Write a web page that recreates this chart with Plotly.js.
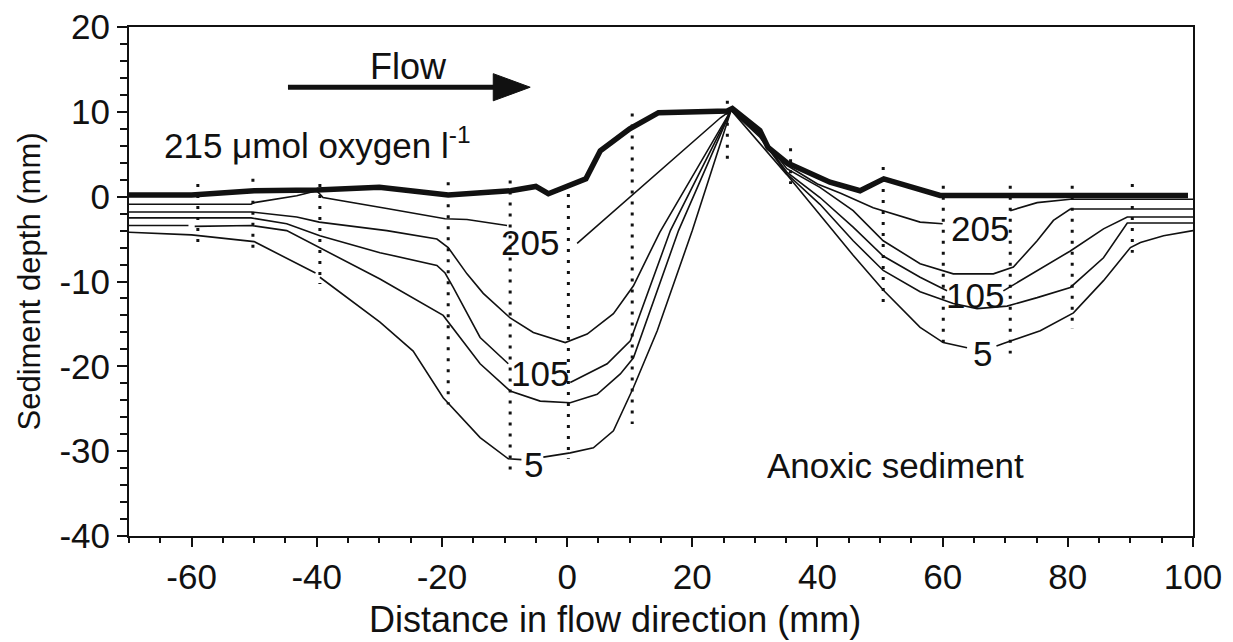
<!DOCTYPE html>
<html><head><meta charset="utf-8">
<script src="https://cdn.plot.ly/plotly-3.0.1.min.js"></script>
<style>html,body{margin:0;padding:0;background:#fff}</style>
</head><body>
<div id="chart" style="width:1233px;height:642px"></div>
<script>
// Sediment surface (thick line)
const surfaceX = [-70, -60, -50, -40, -30, -19, -9, -5, -3, 0, 3, 5.3, 10, 14.6, 25.6, 26.4, 30.8, 32.1, 35.1, 42, 46.8, 50.6, 59.6, 99.2];
const surfaceY = [0.2, 0.2, 0.7, 0.8, 1.1, 0.2, 0.7, 1.2, 0.35, 1.3, 2.1, 5.4, 8, 9.9, 10.1, 10.4, 7.8, 5.8, 4.0, 1.7, 0.7, 2.1, 0.15, 0.15];

// Oxygen isolines (µmol l-1); null = gap for the label
const iso205X = [-70, -50.5, -50, -43.2, -40, -39, -28.8, -20.8, -19.5, -16, -9.6, null, 1.6, 24.5, 26.2, 30.8, 32.1, 35.1, 40, 43.7, 48.9, 56.4, 60, null, 70.8, 75.1, 80.4, 90, 100];
const iso205Y = [-0.9, -0.9, -0.7, 0.1, 0.7, -0.1, -1.4, -2.4, -2.6, -2.7, -3.4, null, -5.5, 9.3, 10.2, 7.6, 5.6, 3.7, 1.5, 0.4, -1.3, -3.0, -3.2, null, -1.65, -0.7, -0.3, -0.3, -0.3];

const iso155X = [-70, -50.5, -43.2, -39.6, -28.8, -20.8, -19, -16, -13.4, -9.1, -5.4, -0.3, 3.2, 7.4, 10.6, 14.8, 26.2, 30.8, 35.1, 40.4, 45.7, 50.5, 56.4, 61.7, 68.1, 71.3, 75.1, 77.7, 80.4, 100];
const iso155Y = [-1.8, -1.8, -2.4, -3.0, -4.0, -5.0, -6.0, -9.1, -11.4, -14.3, -16.0, -17.2, -16.2, -13.8, -10.5, -4.2, 10.2, 7.4, 3.3, 1.1, -1.65, -5.2, -7.9, -9.1, -9.1, -8.3, -5.2, -2.8, -1.45, -1.45];

const iso105X = [-70, -50.5, -44.8, -39.5, -29.9, -20.8, -19.5, -18.2, -13.9, -9.4, null, 0.5, 6.4, 10.1, 16.5, 26.2, 30.8, 35.1, 40.4, 45.7, 50.5, 56.4, 60.7, null, 69.7, 75.1, 80.4, 85.7, 89.5, 100];
const iso105Y = [-2.5, -2.5, -3.2, -4.6, -6.6, -8.1, -9.0, -10.7, -16.6, -19.7, null, -21.9, -19.7, -17.0, -4.0, 10.2, 7.2, 2.9, -0.1, -3.6, -7.0, -9.5, -11.1, null, -11.1, -8.7, -6.4, -3.8, -2.4, -2.4];

const iso55X = [-70, -60.5, null, -59.5, -50.5, -44.8, -39.5, -29.9, -19.8, -13.9, -9.1, -4.3, 0.5, 4.8, 8.5, 10.6, 17.8, 26.2, 30.8, 35.1, 40.4, 45.7, 50.5, 56.4, 61.7, 65.5, 70.3, 75.1, 80.4, 85.7, 89.5, 100];
const iso55Y = [-3.4, -3.4, null, -3.5, -3.4, -4.0, -6.0, -9.7, -14.0, -19.7, -22.9, -24.1, -24.3, -23.3, -20.9, -19.0, -4.0, 10.2, 7.0, 2.7, -0.9, -5.2, -8.7, -11.2, -12.6, -13.2, -12.9, -11.9, -10.7, -7.2, -3.1, -3.1];

const iso5X = [-70, -60, -50, -40.2, null, -39.5, -29.9, -24.6, -19.8, -13.9, -9.4, -7.3, null, -3.8, 0.5, 4.2, 7.4, 10.6, 14.4, 20, 26.2, 35.1, 40.4, 45.7, 50.5, 56.4, 60.1, 63.9, null, 68.6, 69.7, 75.6, 80.9, 85.7, 90, 91.6, 95.3, 100];
const iso5Y = [-4.2, -4.5, -5.3, -9.0, null, -9.5, -14.8, -18.2, -23.7, -28.4, -30.9, -31.0, null, -30.7, -30.2, -29.6, -27.6, -22.5, -15.8, -4.0, 10.2, 2.6, -2.2, -6.9, -11.0, -15.4, -17.2, -17.8, null, -17.6, -17.3, -15.8, -13.7, -9.9, -6.0, -5.4, -4.6, -4.0];

// Microprofile positions (dotted verticals)
const profileX      = [-59, -50.2, -39.5, -19, -9.1, 0.2, 10.4, 25.6, 35.7, 50.5, 60.1, 70.8, 80.7, 90.3];
const profileTop    = [1.5, 2.1, 1.5, 1.7, 1.9, 0.3, 9.8, 11.3, 5.7, 3.5, 1.3, 1.3, 1.3, 1.5];
const profileBottom = [-5.7, -6.6, -10.3, -24.5, -32.7, -30.9, -26.8, 3.7, 1.5, -13.1, -17.9, -18.5, -15.6, -6.6];

// Isoline labels
const labelText = ['205', '105', '5', '205', '105', '5'];
const labelX    = [-5.9, -4.3, -5.3, 66.0, 65.2, 66.3];
const labelY    = [-5.4, -20.9, -31.6, -3.7, -11.6, -18.5];

// Tick values and labels
const xTickVals = [-60, -40, -20, 0, 20, 40, 60, 80, 100];
const xTickText = ['-60', '-40', '-20', '0', '20', '40', '60', '80', '100'];
const yTickVals = [-40, -30, -20, -10, 0, 10, 20];
const yTickText = ['-40', '-30', '-20', '-10', '0', '10', '20'];

const FONT = 'Liberation Sans, Arial, Helvetica, sans-serif';
const INK = '#111';

const traces = [];
const px = [], py = [];
for (let i = 0; i < profileX.length; i++) {
  px.push(profileX[i], profileX[i], null);
  py.push(profileTop[i], profileBottom[i], null);
}
traces.push({x: px, y: py, mode: 'lines', line: {color: INK, width: 3, dash: '3px,8px'}, hoverinfo: 'skip'});

const isos = [[iso205X, iso205Y], [iso155X, iso155Y], [iso105X, iso105Y], [iso55X, iso55Y], [iso5X, iso5Y]];
isos.forEach(([x, y]) => traces.push({x, y, mode: 'lines', line: {color: INK, width: 1.6}, connectgaps: false}));
traces.push({x: surfaceX, y: surfaceY, mode: 'lines', line: {color: INK, width: 5.5}});

const annotations = labelText.map((t, i) => ({
  x: labelX[i], y: labelY[i], xref: 'x', yref: 'y', text: t, showarrow: false,
  font: {family: FONT, size: 35, color: INK}
}));
annotations.push({x: -64.7, y: 6.3, xref: 'x', yref: 'y', xanchor: 'left', text: '215 \u03bcmol oxygen l<sup>-1</sup>', showarrow: false, font: {family: FONT, size: 35, color: INK}});
annotations.push({x: -25.4, y: 15.3, xref: 'x', yref: 'y', text: 'Flow', showarrow: false, font: {family: FONT, size: 36, color: INK}});
annotations.push({x: 52.4, y: -31.7, xref: 'x', yref: 'y', text: 'Anoxic sediment', showarrow: false, font: {family: FONT, size: 35, color: INK}});
// x-axis title (placed as in the reference, left of the plot centre)
annotations.push({x: 0.457, y: -0.119, xref: 'paper', yref: 'paper', xanchor: 'center', yanchor: 'top', text: 'Distance in flow direction (mm)', showarrow: false, font: {family: FONT, size: 36, color: INK}});

// Flow arrow (annotation graphic)
const shapes = [
  {type: 'line', xref: 'x', yref: 'y', x0: -44.6, y0: 12.9, x1: -10.5, y1: 12.9, line: {color: INK, width: 5}},
  {type: 'path', xref: 'x', yref: 'y', path: 'M -11.8,14.5 L -5.9,12.9 L -11.8,11.3 Z', fillcolor: INK, line: {color: INK, width: 1}}
];

const layout = {
  width: 1233, height: 642,
  margin: {l: 129, r: 40, t: 27, b: 106},
  paper_bgcolor: '#fff', plot_bgcolor: '#fff',
  showlegend: false,
  font: {family: FONT, color: INK},
  xaxis: {
    range: [-70, 100], tickmode: 'array', tickvals: xTickVals, ticktext: xTickText,
    showgrid: false, zeroline: false,
    showline: true, mirror: true, linecolor: INK, linewidth: 2,
    ticks: 'outside', ticklen: 9, tickwidth: 2, tickcolor: INK,
    minor: {tick0: 0, dtick: 5, ticks: 'outside', ticklen: 5, tickwidth: 2, tickcolor: INK, showgrid: false},
    tickfont: {family: FONT, size: 35, color: INK}
  },
  yaxis: {
    range: [-40, 20], tickmode: 'array', tickvals: yTickVals, ticktext: yTickText,
    showgrid: false, zeroline: false,
    showline: true, mirror: true, linecolor: INK, linewidth: 2,
    ticks: 'outside', ticklen: 10, tickwidth: 2, tickcolor: INK,
    minor: {tick0: 0, dtick: 2, ticks: 'outside', ticklen: 7, tickwidth: 2, tickcolor: INK, showgrid: false},
    tickfont: {family: FONT, size: 35, color: INK},
    title: {text: 'Sediment depth (mm)', font: {family: FONT, size: 31, color: INK}, standoff: 10}
  },
  annotations, shapes
};

Plotly.newPlot('chart', traces, layout, {staticPlot: true, displayModeBar: false});
</script>
</body></html>
